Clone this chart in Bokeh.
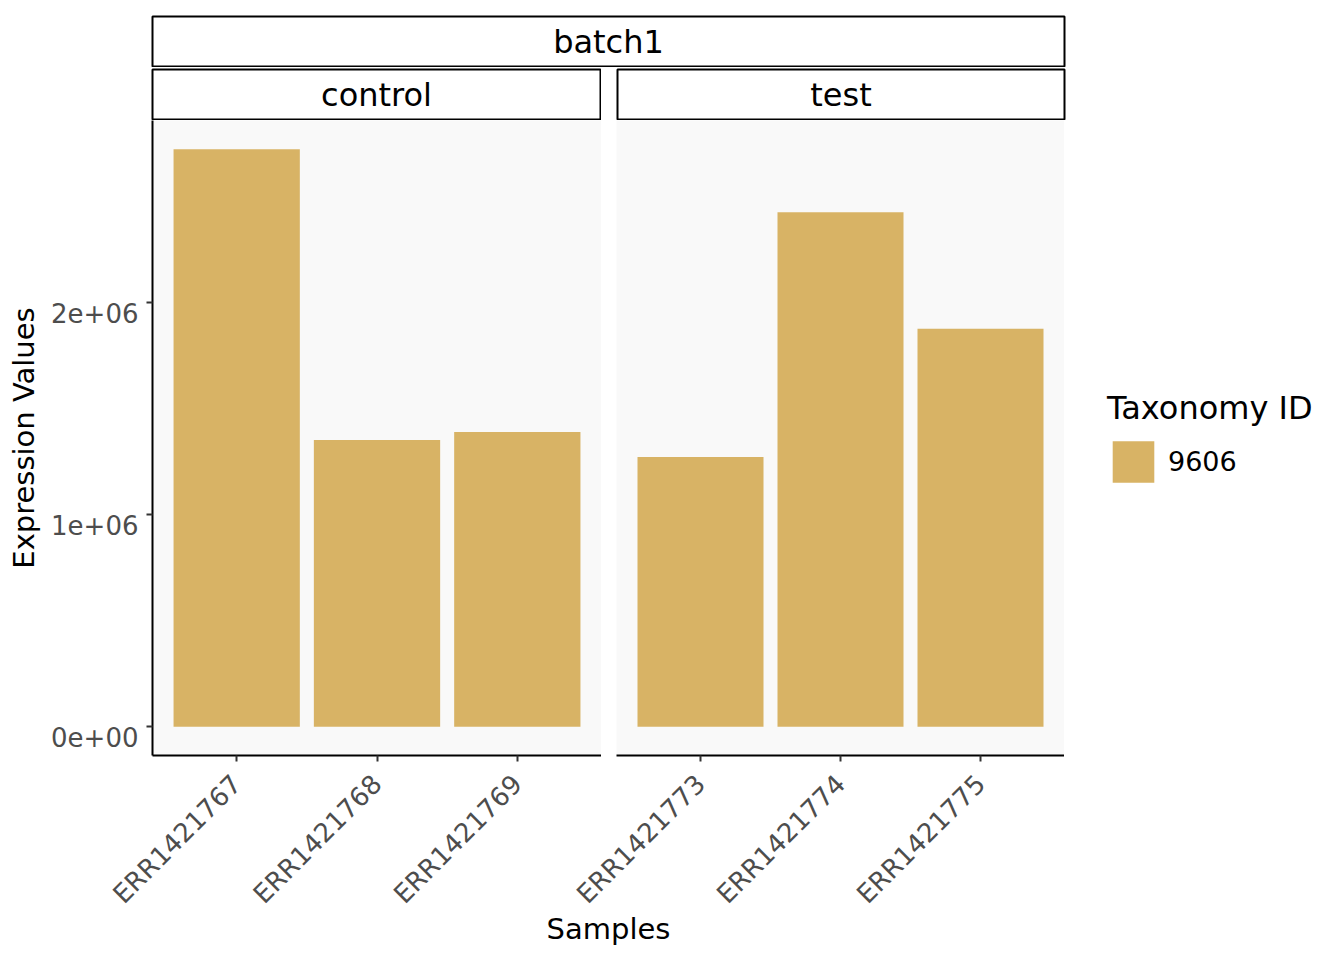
import math
from bokeh.plotting import figure
from bokeh.layouts import column, row
from bokeh.models import (FactorRange, Range1d, FixedTicker, Label, Legend,
                          LegendItem, ColumnDataSource, LinearAxis)
from bokeh.embed import file_html
from bokeh.resources import INLINE

# ---------------- data ----------------
batch_label = "batch1"
group_labels = ["control", "test"]
control_samples = ["ERR1421767", "ERR1421768", "ERR1421769"]
control_values = [2723000, 1352000, 1390000]
test_samples = ["ERR1421773", "ERR1421774", "ERR1421775"]
test_values = [1272000, 2426000, 1877000]
y_ticks = [0, 1000000, 2000000]
y_tick_labels = ["0e+00", "1e+06", "2e+06"]
legend_title = "Taxonomy ID"
taxonomy_id = "9606"
x_title = "Samples"
y_title = "Expression Values"

# ---------------- style ----------------
FONT = "DejaVu Sans"
BAR = "#D8B365"
PANEL_BG = "#F9F9F9"
TICK_TXT = "#4D4D4D"

FRAME_H = 635
BOTTOM = 168
XLAB_H = 44
XLAB_OVERLAP = 17
OVERHANG = 40          # right panel canvas reaches under the left one so its tick labels are not cut
LABEL_DROP_PX = 10     # y tick labels sit slightly below their ticks (as in ggplot vjust)

ymax = max(control_values + test_values)
y_lo, y_hi = -0.05 * ymax, 1.05 * ymax
y_range = Range1d(y_lo, y_hi)
shift = (y_hi - y_lo) * LABEL_DROP_PX / FRAME_H
label_range = Range1d(y_lo + shift, y_hi + shift)


def strip(text, width, mbl, mbr, height, mbt, mbb):
    s = figure(width=width, height=height, x_range=Range1d(0, 1), y_range=Range1d(0, 1),
               x_axis_location=None, y_axis_location=None, toolbar_location=None,
               output_backend="svg", min_border_left=mbl, min_border_right=mbr,
               min_border_top=mbt, min_border_bottom=mbb,
               outline_line_color="black", outline_line_width=2,
               background_fill_color="white", border_fill_color="white")
    s.xgrid.visible = False
    s.ygrid.visible = False
    s.add_layout(Label(x=0.5, y=0.5, text=text, text_align="center",
                       text_baseline="middle", text_font_size="32px",
                       text_font=FONT, text_color="black"))
    return s


def panel(src, samples, width, mbl, mbr, with_yaxis, **kw):
    p = figure(width=width, height=FRAME_H + BOTTOM,
               x_range=FactorRange(factors=samples, range_padding=0.1,
                                   range_padding_units="absolute"),
               y_range=y_range, toolbar_location=None, output_backend="svg",
               y_axis_location="left" if with_yaxis else None,
               min_border_left=mbl, min_border_right=mbr, min_border_top=0,
               min_border_bottom=BOTTOM, background_fill_color=PANEL_BG,
               outline_line_color=None, **kw)
    r = p.vbar(x="sample", top="value", bottom=0, width=0.9, source=src,
               fill_color=BAR, line_color=None)
    p.xgrid.visible = False
    p.ygrid.visible = False
    ax = p.xaxis[0]
    ax.major_label_orientation = math.pi / 4
    ax.major_label_text_font = FONT
    ax.major_label_text_font_size = "26px"
    ax.major_label_text_color = TICK_TXT
    ax.axis_line_color = "black"
    ax.axis_line_width = 2
    ax.major_tick_line_color = "#333333"
    ax.major_tick_line_width = 2
    ax.major_tick_out = 6
    ax.major_tick_in = 0
    ax.minor_tick_line_color = None
    ax.major_label_standoff = 18
    if with_yaxis:
        # axis line + ticks
        ya = p.yaxis[0]
        ya.ticker = FixedTicker(ticks=y_ticks)
        ya.major_label_text_font_size = "0px"
        ya.major_label_text_color = None
        ya.major_label_standoff = 0
        ya.axis_line_color = "black"
        ya.axis_line_width = 2
        ya.major_tick_line_color = "#333333"
        ya.major_tick_line_width = 2
        ya.major_tick_out = 6
        ya.major_tick_in = 0
        ya.minor_tick_line_color = None
        # tick labels + title
        p.extra_y_ranges = {"labels": label_range}
        la = LinearAxis(y_range_name="labels", ticker=FixedTicker(ticks=y_ticks),
                        major_label_overrides={t: l for t, l in zip(y_ticks, y_tick_labels)},
                        major_label_text_font=FONT, major_label_text_font_size="26px",
                        major_label_text_color=TICK_TXT, major_label_standoff=8,
                        axis_line_color=None, major_tick_line_color=None,
                        minor_tick_line_color=None, major_tick_out=0, major_tick_in=0,
                        axis_label=y_title, axis_label_text_font=FONT,
                        axis_label_text_font_size="29px",
                        axis_label_text_font_style="normal",
                        axis_label_text_color="black", axis_label_standoff=7)
        p.add_layout(la, "left")
    return p, r


control_src = ColumnDataSource(dict(sample=control_samples, value=control_values))
test_src = ColumnDataSource(dict(sample=test_samples, value=test_values))

# strips
batch_fig = strip(batch_label, 1066, 152, 2, 67, 16, 1)
control_strip = strip(group_labels[0], 601, 152, 1, 53, 2, 1)
test_strip = strip(group_labels[1], 465, 16, 2, 53, 2, 1)

# panels
left_panel, _ = panel(control_src, control_samples, 601, 152, 0, True,
                      border_fill_color="white")
right_panel, _ = panel(test_src, test_samples, 463 + OVERHANG, 15 + OVERHANG, 0, False,
                       border_fill_color=None, margin=(0, 0, 0, -OVERHANG))

# legend area
leg_fig = figure(width=270, height=FRAME_H + BOTTOM,
                 x_range=FactorRange(factors=test_samples), y_range=y_range,
                 x_axis_location=None, y_axis_location=None, toolbar_location=None,
                 output_backend="svg", min_border_left=0, min_border_right=0,
                 min_border_top=0, min_border_bottom=BOTTOM, outline_line_color=None,
                 background_fill_color="white", border_fill_color="white")
leg_fig.xgrid.visible = False
leg_fig.ygrid.visible = False
key = leg_fig.vbar(x="sample", top="value", bottom=0, width=0.9, source=test_src,
                   fill_color=BAR, line_color=None, visible=False)
legend = Legend(items=[LegendItem(label=taxonomy_id, renderers=[key])],
                title=legend_title, location="center_left",
                title_text_font=FONT, title_text_font_size="32px",
                title_text_font_style="normal", title_text_color="black",
                label_text_font=FONT, label_text_font_size="27px",
                label_text_color="black",
                glyph_width=52, glyph_height=52, label_height=52,
                label_standoff=9, padding=0, margin=43, spacing=0,
                title_standoff=9, border_line_color=None,
                background_fill_alpha=0, click_policy="none")
leg_fig.add_layout(legend)

# x title (overlaps the empty bottom of the tick-label band)
xlab = figure(width=1066, height=XLAB_H, x_range=Range1d(0, 1), y_range=Range1d(0, XLAB_H),
              x_axis_location=None, y_axis_location=None, toolbar_location=None,
              output_backend="svg", min_border_left=152, min_border_right=2,
              min_border_top=0, min_border_bottom=0, outline_line_color=None,
              background_fill_color=None, border_fill_color=None,
              margin=(-XLAB_OVERLAP, 0, 0, 0))
xlab.xgrid.visible = False
xlab.ygrid.visible = False
xlab.add_layout(Label(x=0.5, y=22, text=x_title, text_align="center",
                      text_baseline="middle", text_font_size="29px",
                      text_font=FONT, text_color="black"))

layout = column(batch_fig, row(control_strip, test_strip),
                row(left_panel, right_panel, leg_fig), xlab)

open("out.html", "w").write(file_html(layout, INLINE))
